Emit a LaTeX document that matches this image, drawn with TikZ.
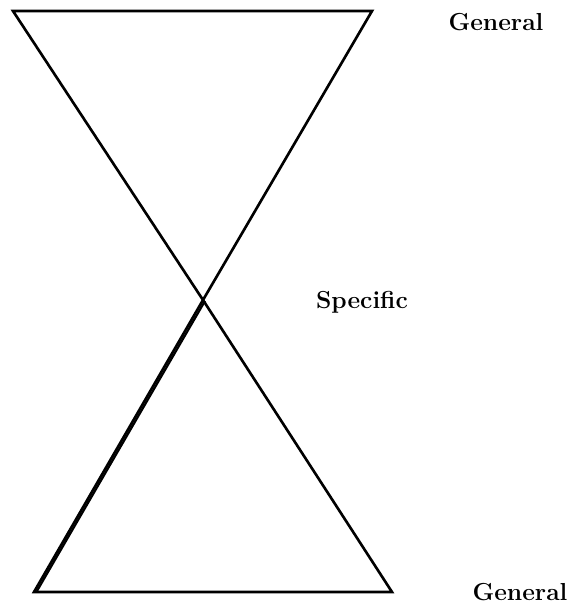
\documentclass[tikz,border=0pt]{standalone}
\usepackage{tikz}
\usetikzlibrary{arrows}

\begin{document}
\begin{tikzpicture} [x = 0.02cm, y = -0.02cm]
	\useasboundingbox (0,0) rectangle (571,603);
	\tikzset{edge/.style = {line width = 1.5pt, line join = miter},
		lbl/.style = {font = \fontsize{14}{16}\selectfont\bfseries}}
	% top triangle
	\coordinate (tl) at (13,11);
	\coordinate (tr) at (372,11);
	\coordinate (mid) at (203,300);
	% bottom triangle
	\coordinate (bl) at (34,592);
	\coordinate (br) at (392,592);
	\coordinate (bl2) at (37,591);
	\coordinate (mid2) at (205,301);
	\draw [edge] (tl) -- (tr) -- (mid) -- cycle;
	\draw [edge] (mid) -- (br) -- (bl) -- cycle;
	\draw [line width = 1.2pt] (bl2) -- (mid2);
	\node [lbl] (gentop) at (496,22) {General};
	\node [lbl] (spec) at (362,302) {Specific};
	\node [lbl] (genbot) at (520,592) {General};
\end{tikzpicture}
\end{document}
